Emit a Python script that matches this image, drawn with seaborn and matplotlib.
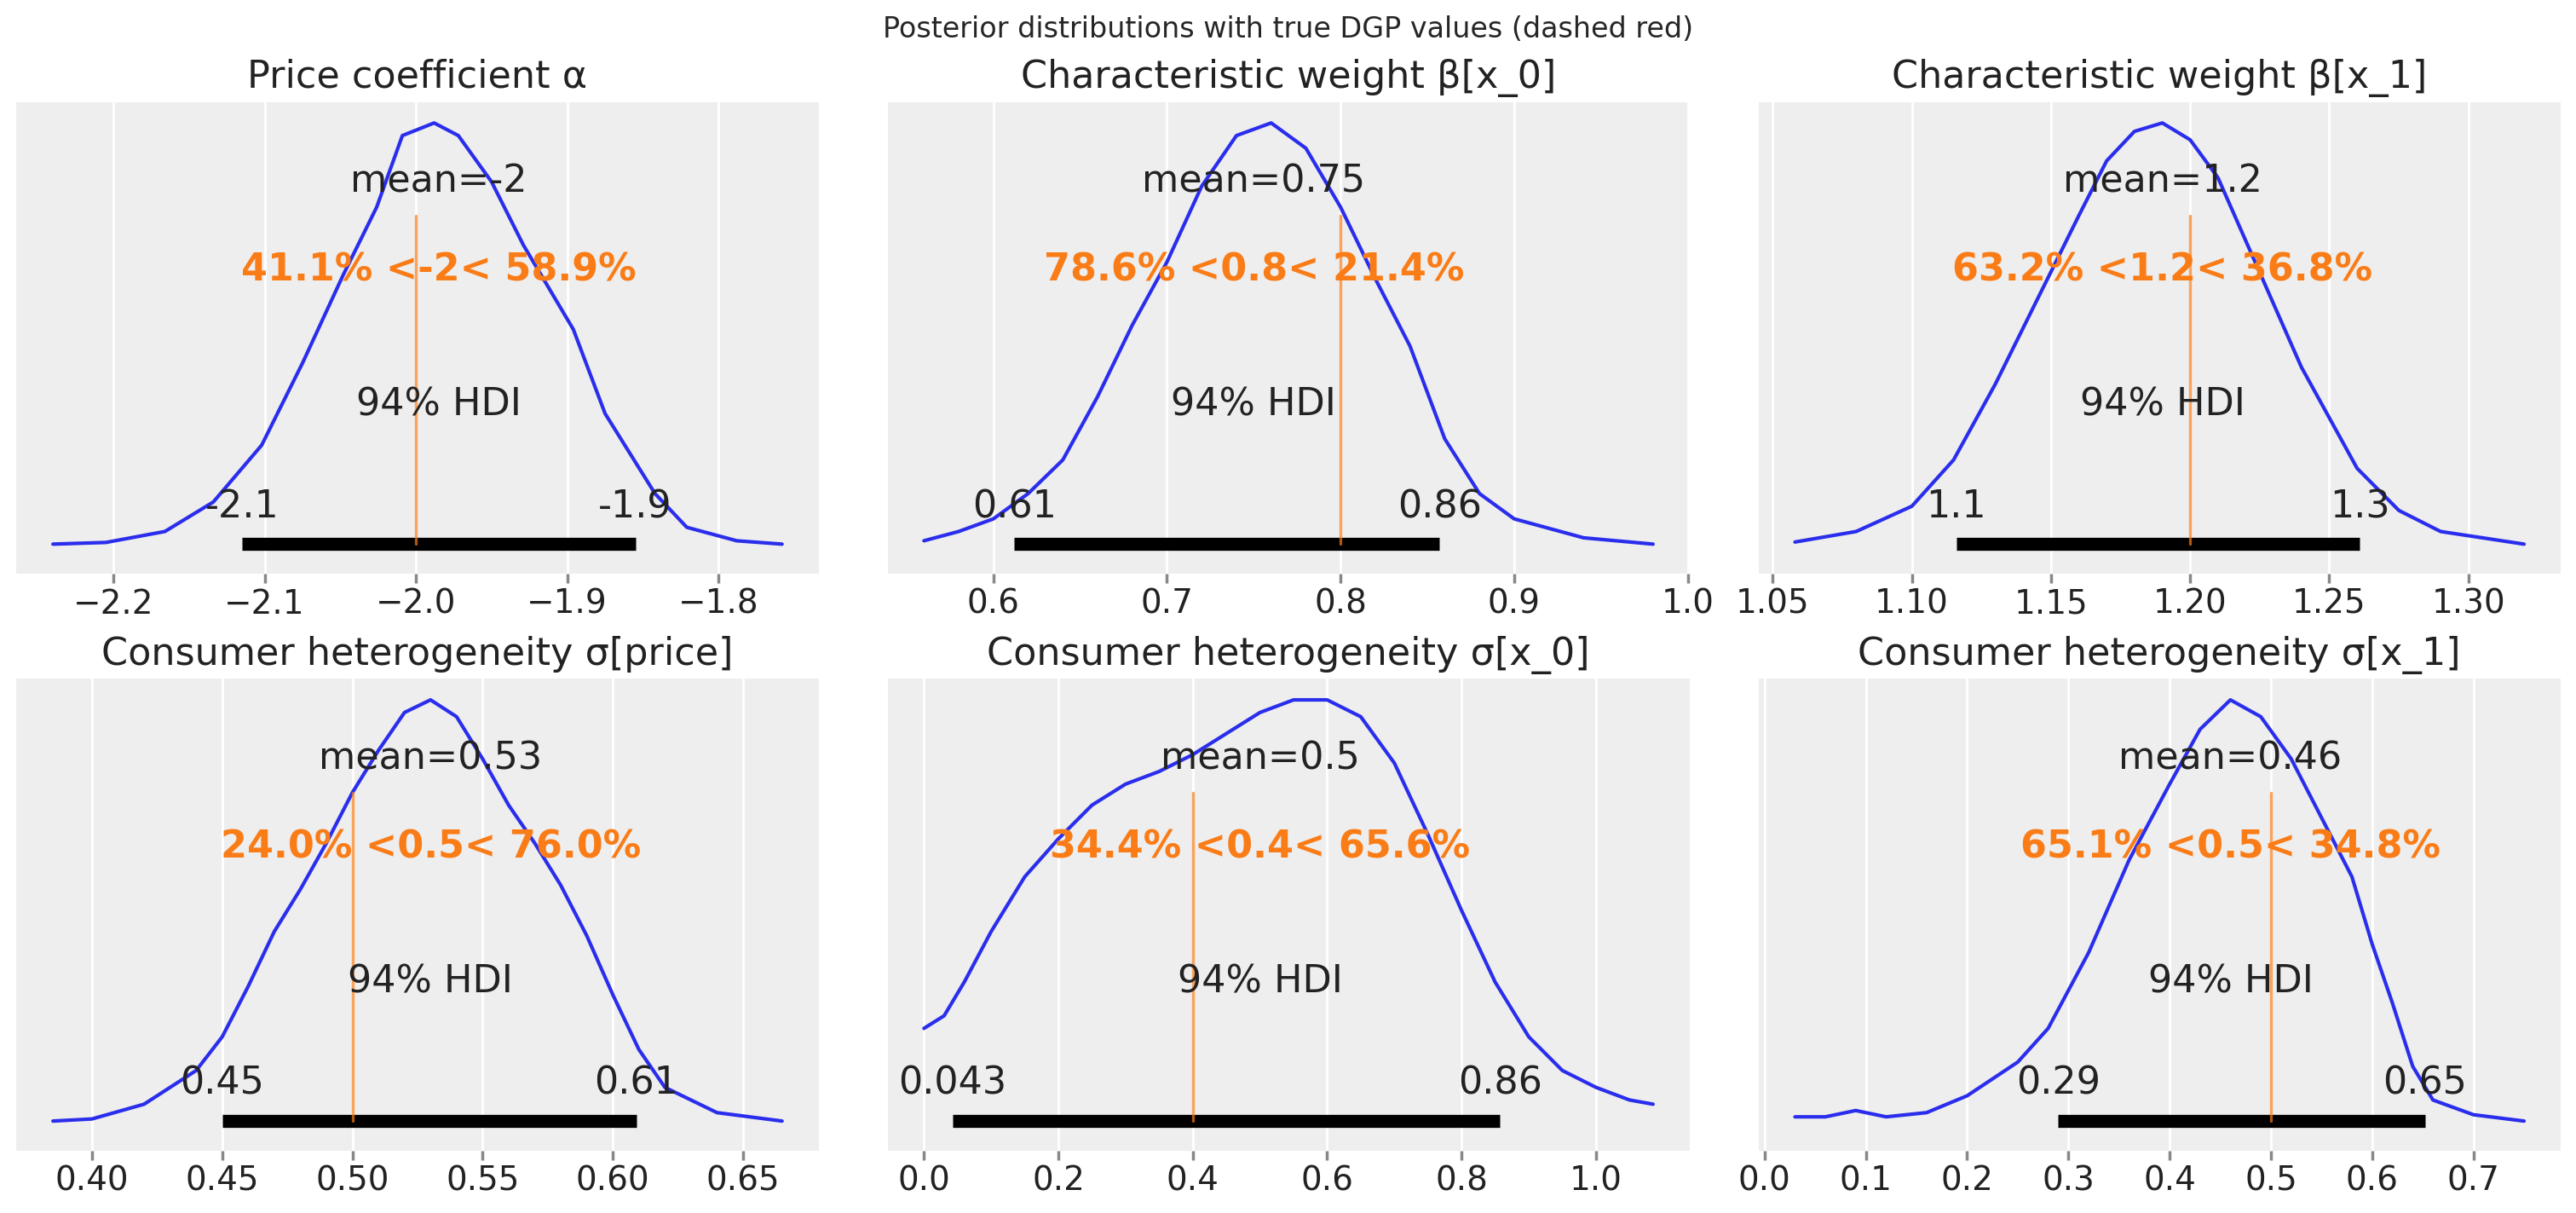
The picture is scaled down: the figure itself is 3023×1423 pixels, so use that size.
import matplotlib
matplotlib.use("Agg")
import matplotlib.pyplot as plt
import pandas as pd
import seaborn as sns

# posterior density curves (height relative to peak)
alpha_x = [-2.240, -2.205, -2.166, -2.134, -2.102, -2.075, -2.048, -2.026, -2.009, -1.988,
           -1.972, -1.950, -1.929, -1.896, -1.875, -1.842, -1.821, -1.788, -1.758]
alpha_h = [0.0, 0.004, 0.03, 0.10, 0.235, 0.43, 0.64, 0.80, 0.97, 1.0,
           0.97, 0.86, 0.71, 0.51, 0.31, 0.12, 0.04, 0.008, 0.0]
beta0_x = [0.56, 0.58, 0.60, 0.62, 0.64, 0.66, 0.68, 0.70, 0.72, 0.74,
           0.76, 0.78, 0.80, 0.82, 0.84, 0.86, 0.88, 0.90, 0.94, 0.98]
beta0_h = [0.008, 0.03, 0.06, 0.12, 0.20, 0.35, 0.52, 0.67, 0.85, 0.97,
           1.0, 0.94, 0.80, 0.63, 0.47, 0.25, 0.12, 0.06, 0.015, 0.0]
beta1_x = [1.058, 1.08, 1.10, 1.115, 1.13, 1.145, 1.16, 1.17, 1.18, 1.19,
           1.20, 1.21, 1.22, 1.23, 1.24, 1.25, 1.26, 1.275, 1.29, 1.32]
beta1_h = [0.005, 0.03, 0.09, 0.20, 0.38, 0.58, 0.78, 0.91, 0.98, 1.0,
           0.96, 0.87, 0.72, 0.57, 0.42, 0.30, 0.18, 0.08, 0.03, 0.0]
sprice_x = [0.385, 0.40, 0.42, 0.44, 0.45, 0.46, 0.47, 0.48, 0.49, 0.50, 0.51, 0.52,
            0.53, 0.54, 0.55, 0.56, 0.57, 0.58, 0.59, 0.60, 0.61, 0.62, 0.64, 0.665]
sprice_h = [0.0, 0.005, 0.04, 0.12, 0.20, 0.32, 0.45, 0.55, 0.66, 0.78, 0.88, 0.97,
            1.0, 0.96, 0.86, 0.75, 0.66, 0.56, 0.44, 0.30, 0.17, 0.08, 0.02, 0.0]
sx0_x = [0.0, 0.03, 0.06, 0.10, 0.15, 0.20, 0.25, 0.30, 0.35, 0.40, 0.45, 0.50,
         0.55, 0.60, 0.65, 0.70, 0.75, 0.80, 0.85, 0.90, 0.95, 1.00, 1.05, 1.085]
sx0_h = [0.22, 0.25, 0.33, 0.45, 0.58, 0.67, 0.75, 0.80, 0.83, 0.87, 0.92, 0.97,
         1.0, 1.0, 0.96, 0.85, 0.68, 0.50, 0.33, 0.20, 0.12, 0.08, 0.05, 0.04]
sx1_x = [0.03, 0.06, 0.09, 0.12, 0.16, 0.20, 0.25, 0.28, 0.32, 0.36, 0.40, 0.43,
         0.46, 0.49, 0.52, 0.55, 0.58, 0.60, 0.62, 0.64, 0.66, 0.70, 0.75]
sx1_h = [0.01, 0.01, 0.025, 0.01, 0.02, 0.06, 0.14, 0.22, 0.40, 0.62, 0.80, 0.93,
         1.0, 0.96, 0.86, 0.72, 0.58, 0.42, 0.28, 0.13, 0.05, 0.015, 0.0]

titles = ["Price coefficient α", "Characteristic weight β[x_0]", "Characteristic weight β[x_1]",
          "Consumer heterogeneity σ[price]", "Consumer heterogeneity σ[x_0]",
          "Consumer heterogeneity σ[x_1]"]
mean_vals = [-1.985, 0.75, 1.19, 0.53, 0.50, 0.46]
mean_labels = ["mean=-2", "mean=0.75", "mean=1.2", "mean=0.53", "mean=0.5", "mean=0.46"]
true_vals = [-2.0, 0.8, 1.2, 0.5, 0.4, 0.5]
ref_labels = ["41.1% <-2< 58.9%", "78.6% <0.8< 21.4%", "63.2% <1.2< 36.8%",
              "24.0% <0.5< 76.0%", "34.4% <0.4< 65.6%", "65.1% <0.5< 34.8%"]
hdi_low = [-2.115, 0.612, 1.116, 0.45, 0.043, 0.29]
hdi_high = [-1.855, 0.857, 1.261, 0.609, 0.857, 0.652]
hdi_low_lbl = ["-2.1", "0.61", "1.1", "0.45", "0.043", "0.29"]
hdi_high_lbl = ["-1.9", "0.86", "1.3", "0.61", "0.86", "0.65"]
curves = [(alpha_x, alpha_h), (beta0_x, beta0_h), (beta1_x, beta1_h),
          (sprice_x, sprice_h), (sx0_x, sx0_h), (sx1_x, sx1_h)]

BLUE = "#2a2eec"
ORANGE = "#fa7c17"
TEXT = "#222222"

sns.set_theme(style="darkgrid", rc={"axes.facecolor": "#eeeeee", "grid.color": "white"})
plt.rcParams["font.family"] = ["DejaVu Sans"]

fig, axes = plt.subplots(2, 3, figsize=(15.115, 7.115), dpi=200)
fig.subplots_adjust(left=0.0064, right=0.994, top=0.916, bottom=0.0515, wspace=0.086, hspace=0.223)

for i, ax in enumerate(axes.flat):
    xs, hs = curves[i]
    df = pd.DataFrame({"x": xs, "h": hs})
    sns.lineplot(data=df, x="x", y="h", ax=ax, color=BLUE, linewidth=1.5, sort=False)
    ax.plot([hdi_low[i], hdi_high[i]], [0, 0], color="black", linewidth=5.5, solid_capstyle="butt")
    ax.plot([true_vals[i], true_vals[i]], [0, 0.78], color=ORANGE, alpha=0.7, linewidth=1.2)
    m = mean_vals[i]
    ax.text(m, 0.86, mean_labels[i], ha="center", va="center", fontsize=16, color=TEXT)
    ax.text(m, 0.65, ref_labels[i], ha="center", va="center", fontsize=16,
            color=ORANGE, fontweight="bold")
    ax.text(m, 0.33, "94% HDI", ha="center", va="center", fontsize=16, color=TEXT)
    ax.text(hdi_low[i], 0.045, hdi_low_lbl[i], ha="center", va="bottom", fontsize=16, color=TEXT)
    ax.text(hdi_high[i], 0.045, hdi_high_lbl[i], ha="center", va="bottom", fontsize=16, color=TEXT)
    ax.set_ylim(-0.07, 1.05)
    ax.set_yticks([])
    ax.grid(axis="y", visible=False)
    ax.set_xlabel("")
    ax.set_ylabel("")
    ax.set_title(titles[i], fontsize=16, color=TEXT, pad=6)
    ax.tick_params(axis="x", labelsize=14, bottom=True, length=4, pad=2, color="#888888",
                   labelcolor=TEXT)
    for s in ax.spines.values():
        s.set_visible(False)

fig.suptitle("Posterior distributions with true DGP values (dashed red)", fontsize=12,
             y=0.976, va="center")
fig.savefig("out.png", dpi=200)
